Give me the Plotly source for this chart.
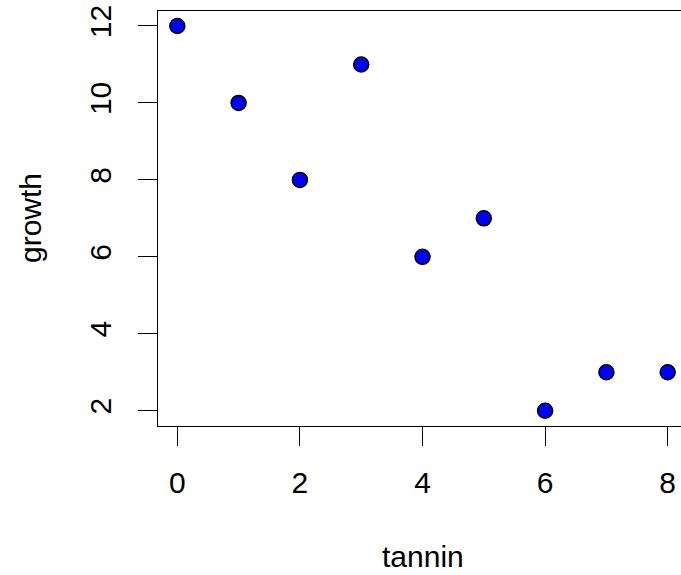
import plotly.graph_objects as go

tannin = [0, 1, 2, 3, 4, 5, 6, 7, 8]
growth = [12, 10, 8, 11, 6, 7, 2, 3, 3]
x_ticks = [0, 2, 4, 6, 8]
y_ticks = [2, 4, 6, 8, 10, 12]

W, H = 681, 575
FONT = "Liberation Sans, Arial, sans-serif"

fig = go.Figure()
fig.add_trace(go.Scatter(
    x=tannin, y=growth, mode="markers",
    marker=dict(size=15, color="#0000FF", line=dict(color="black", width=1.5)),
    cliponaxis=False, showlegend=False, hoverinfo="skip",
))

left, right = 157.7, 681.0
top, bottom = 10.6, 426.1

fig.update_layout(
    width=W, height=H,
    margin=dict(l=0, r=0, t=0, b=0, autoexpand=False),
    paper_bgcolor="white", plot_bgcolor="white",
    font=dict(family=FONT, size=30, color="black"),
    xaxis=dict(
        domain=[left / W, right / W],
        range=[-0.32, 8.217],
        tickvals=x_ticks, ticktext=[str(v) for v in x_ticks],
        ticks="outside", ticklen=19, tickwidth=1.3, tickcolor="black",
        showline=True, linecolor="black", linewidth=1.3, mirror=True,
        showgrid=False, zeroline=False, automargin=False,
        tickfont=dict(family=FONT, size=30, color="black"),
        ticklabelstandoff=11,
    ),
    yaxis=dict(
        domain=[1 - bottom / H, 1 - top / H],
        range=[1.6, 12.4],
        tickvals=y_ticks, ticktext=[str(v) for v in y_ticks],
        tickangle=-90,
        ticks="outside", ticklen=19, tickwidth=1.3, tickcolor="black",
        showline=True, linecolor="black", linewidth=1.3, mirror=False,
        showgrid=False, zeroline=False, automargin=False,
        tickfont=dict(family=FONT, size=30, color="black"),
        ticklabelstandoff=15,
    ),
    annotations=[
        dict(text="tannin", xref="paper", yref="paper",
             x=422.5 / W, y=0, xanchor="center", yanchor="bottom",
             showarrow=False, font=dict(family=FONT, size=30, color="black")),
        dict(text="growth", xref="paper", yref="paper",
             x=30 / W, y=1 - 218 / H, xanchor="center", yanchor="middle",
             textangle=-90,
             showarrow=False, font=dict(family=FONT, size=30, color="black")),
    ],
)

fig.write_html(
    "out.html",
    config={"displayModeBar": False},
    post_script="document.body.style.margin='0';document.body.style.overflow='hidden';",
)
